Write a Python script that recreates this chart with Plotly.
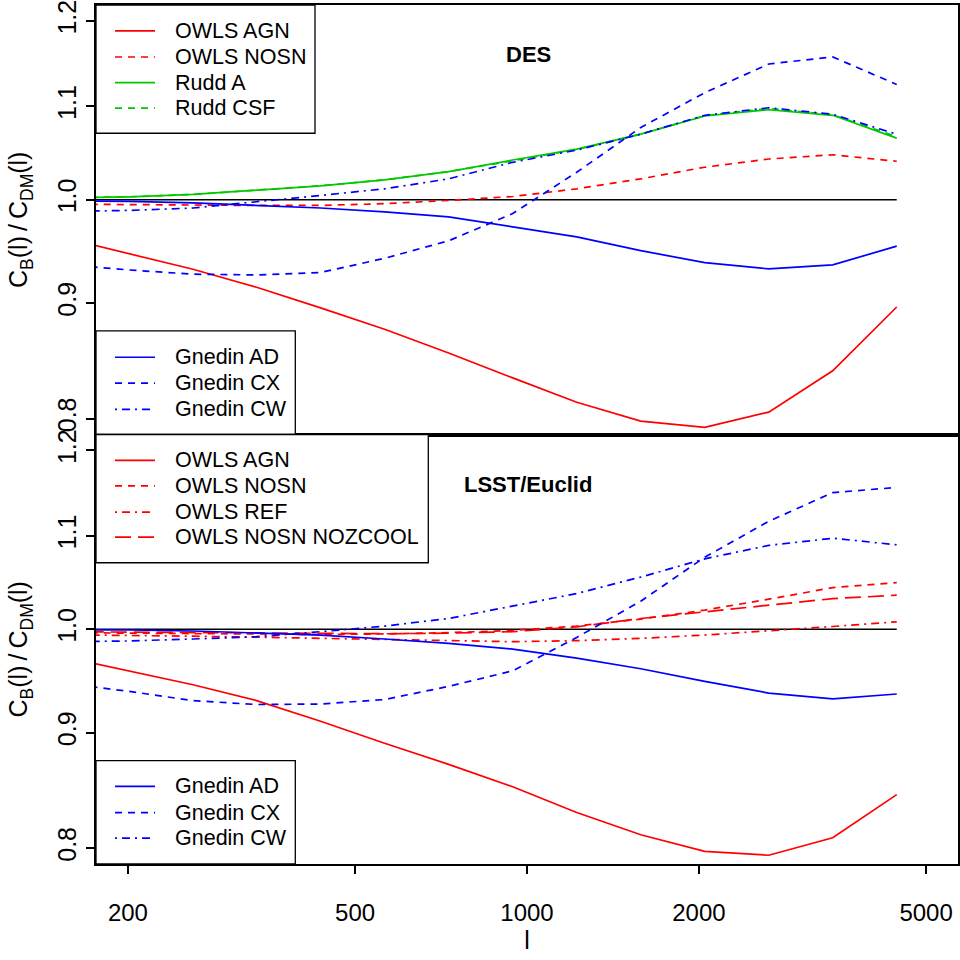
import plotly.graph_objects as go

# ---------------- data ----------------
ell = [155, 201, 260, 336, 435, 563, 729, 944, 1222, 1582, 2048, 2651, 3431, 4442]

# DES panel
des_owls_agn = [0.9616, 0.9465, 0.9316, 0.9146, 0.8956, 0.8763, 0.8553, 0.8339, 0.8134, 0.7980, 0.7929, 0.8053, 0.8400, 0.8964]
des_owls_nosn = [0.9955, 0.9950, 0.9942, 0.9942, 0.9942, 0.9960, 0.9993, 1.0033, 1.0112, 1.0215, 1.0337, 1.0424, 1.0469, 1.0400]
des_rudd_a = [1.0020, 1.0030, 1.0054, 1.0095, 1.0143, 1.0205, 1.0291, 1.0413, 1.0530, 1.0691, 1.0891, 1.0961, 1.0899, 1.0648]
des_rudd_csf = [1.0020, 1.0030, 1.0054, 1.0095, 1.0143, 1.0205, 1.0291, 1.0405, 1.0525, 1.0691, 1.0895, 1.0975, 1.0905, 1.0665]
des_gnedin_ad = [0.9988, 0.9983, 0.9967, 0.9942, 0.9916, 0.9876, 0.9826, 0.9727, 0.9629, 0.9494, 0.9379, 0.9319, 0.9357, 0.9538]
des_gnedin_cx = [0.9360, 0.9309, 0.9269, 0.9262, 0.9285, 0.9420, 0.9590, 0.9860, 1.0284, 1.0764, 1.1153, 1.1484, 1.1567, 1.1247]
des_gnedin_cw = [0.9881, 0.9892, 0.9916, 0.9977, 1.0044, 1.0112, 1.0215, 1.0389, 1.0519, 1.0691, 1.0899, 1.0983, 1.0910, 1.0691]

# LSST/Euclid panel
lsst_owls_agn = [0.9718, 0.9585, 0.9450, 0.9298, 0.9105, 0.8902, 0.8713, 0.8516, 0.8296, 0.8110, 0.7974, 0.7942, 0.8085, 0.8448]
lsst_owls_nosn = [0.9965, 0.9962, 0.9955, 0.9950, 0.9947, 0.9952, 0.9965, 0.9988, 1.0033, 1.0104, 1.0197, 1.0311, 1.0433, 1.0486]
lsst_owls_ref = [0.9944, 0.9939, 0.9929, 0.9919, 0.9909, 0.9899, 0.9889, 0.9874, 0.9884, 0.9907, 0.9941, 0.9982, 1.0028, 1.0076]
lsst_owls_nosn_nozcool = [0.9975, 0.9970, 0.9965, 0.9960, 0.9954, 0.9954, 0.9960, 0.9975, 1.0025, 1.0110, 1.0179, 1.0248, 1.0317, 1.0353]
lsst_gnedin_ad = [0.9993, 0.9992, 0.9982, 0.9965, 0.9941, 0.9901, 0.9857, 0.9799, 0.9709, 0.9605, 0.9482, 0.9370, 0.9314, 0.9361]
lsst_gnedin_cx = [0.9463, 0.9386, 0.9298, 0.9261, 0.9266, 0.9308, 0.9434, 0.9585, 0.9917, 1.0290, 1.0762, 1.1163, 1.1495, 1.1555]
lsst_gnedin_cw = [0.9874, 0.9881, 0.9901, 0.9924, 0.9975, 1.0032, 1.0110, 1.0241, 1.0370, 1.0546, 1.0744, 1.0892, 1.0972, 1.0899]

unity = [1.0] * len(ell)

x_tick_vals = [200, 500, 1000, 2000, 5000]
x_tick_text = ["200", "500", "1000", "2000", "5000"]
y_tick_vals = [0.8, 0.9, 1.0, 1.1, 1.2]
y_tick_text = ["0.8", "0.9", "1.0", "1.1", "1.2"]

panel_titles = ["DES", "LSST/Euclid"]

# ---------------- styles ----------------
RED, GREEN, BLUE, BLACK = "#FF0000", "#00C800", "#0000FF", "#000000"
SOLID, DASHED, DOTDASH, LONGDASH = "solid", "7px,6px", "2px,5px,8px,5px", "16px,7px"
FONT = "Liberation Sans, Arial, Helvetica, sans-serif"

des_series = [
    ("OWLS AGN", des_owls_agn, RED, SOLID),
    ("OWLS NOSN", des_owls_nosn, RED, DASHED),
    ("Rudd A", des_rudd_a, GREEN, SOLID),
    ("Rudd CSF", des_rudd_csf, GREEN, DASHED),
    ("Gnedin AD", des_gnedin_ad, BLUE, SOLID),
    ("Gnedin CX", des_gnedin_cx, BLUE, DASHED),
    ("Gnedin CW", des_gnedin_cw, BLUE, DOTDASH),
]
lsst_series = [
    ("OWLS AGN", lsst_owls_agn, RED, SOLID),
    ("OWLS NOSN", lsst_owls_nosn, RED, DASHED),
    ("OWLS REF", lsst_owls_ref, RED, DOTDASH),
    ("OWLS NOSN NOZCOOL", lsst_owls_nosn_nozcool, RED, LONGDASH),
    ("Gnedin AD", lsst_gnedin_ad, BLUE, SOLID),
    ("Gnedin CX", lsst_gnedin_cx, BLUE, DASHED),
    ("Gnedin CW", lsst_gnedin_cw, BLUE, DOTDASH),
]

W, H = 960, 960
ML, MR, MT, MB = 96, 2, 0, 96
PW, PH = W - ML - MR, H - MT - MB


def pxx(x):
    return (x - ML) / PW


def pxy(y):
    return (H - MB - y) / PH


fig = go.Figure()

for (series, xa, ya) in [(des_series, "x2", "y2"), (lsst_series, "x", "y")]:
    fig.add_trace(go.Scatter(x=ell, y=unity, mode="lines", xaxis=xa, yaxis=ya,
                             line=dict(color=BLACK, width=1.6), showlegend=False,
                             hoverinfo="skip"))
    for name, vals, col, dash in series:
        fig.add_trace(go.Scatter(x=ell, y=vals, mode="lines", name=name, xaxis=xa, yaxis=ya,
                                 line=dict(color=col, width=1.7, dash=dash), showlegend=False))

xr = [2.24511, 3.75489]
yr = [-0.10395, 0.08622]
axis_common = dict(showline=True, mirror=True, linecolor=BLACK, linewidth=2,
                   showgrid=False, zeroline=False, type="log")
ytitle = "C<sub>B</sub>(l)\u2009/\u2009C<sub>DM</sub>(l)"

fig.update_layout(
    width=W, height=H, margin=dict(l=ML, r=MR, t=MT, b=MB),
    paper_bgcolor="white", plot_bgcolor="white",
    font=dict(family=FONT, color=BLACK),
    xaxis=dict(axis_common, range=xr, domain=[0, 1], anchor="y",
               tickvals=x_tick_vals, ticktext=x_tick_text, ticks="outside",
               ticklen=8, tickwidth=1.5, tickcolor=BLACK, tickfont=dict(size=24),
               ticklabelstandoff=18, ticklabeloverflow="allow",
               title=dict(text="l", font=dict(size=25), standoff=4)),
    yaxis=dict(axis_common, range=yr, domain=[0, 0.5], anchor="x",
               tickvals=y_tick_vals, ticktext=y_tick_text, ticks="outside",
               ticklen=8, tickwidth=1.5, tickcolor=BLACK, tickangle=-90,
               tickfont=dict(size=25), ticklabeloverflow="allow",
               title=dict(text=ytitle, font=dict(size=25), standoff=18)),
    xaxis2=dict(axis_common, range=xr, domain=[0, 1], anchor="y2",
                showticklabels=False, ticks=""),
    yaxis2=dict(axis_common, range=yr, domain=[0.5, 1], anchor="x2",
                tickvals=y_tick_vals, ticktext=y_tick_text, ticks="outside",
                ticklen=8, tickwidth=1.5, tickcolor=BLACK, tickangle=-90,
                tickfont=dict(size=25), ticklabeloverflow="allow",
                title=dict(text=ytitle, font=dict(size=25), standoff=18)),
    showlegend=False,
)

# ---------------- legends (R-style boxes) ----------------
shapes, annos = [], []


def legend_box(x0, y0, x1, y1, rows, entries):
    shapes.append(dict(type="rect", xref="paper", yref="paper",
                       x0=pxx(x0), x1=pxx(x1), y0=pxy(y1), y1=pxy(y0),
                       line=dict(color=BLACK, width=1.3), fillcolor="white", layer="above"))
    for ry, (name, _vals, col, dash) in zip(rows, entries):
        shapes.append(dict(type="line", xref="paper", yref="paper",
                           x0=pxx(115), x1=pxx(155), y0=pxy(ry), y1=pxy(ry),
                           line=dict(color=col, width=1.7, dash=dash), layer="above"))
        annos.append(dict(xref="paper", yref="paper", x=pxx(173), y=pxy(ry),
                          xanchor="left", yanchor="middle", showarrow=False,
                          text=name, font=dict(size=21.5, family=FONT, color=BLACK)))


legend_box(96, 0, 315, 129, [26, 52.3, 78, 103.7], des_series[:4])
legend_box(96, 327.7, 295.3, 432, [354.3, 380.3, 406.7], des_series[4:])
legend_box(96, 432, 428.3, 561, [458, 483.7, 510, 535.3], lsst_series[:4])
legend_box(96, 760, 295.3, 864, [786, 812.3, 838], lsst_series[4:])

annos.append(dict(xref="paper", yref="paper", x=pxx(528), y=pxy(50), xanchor="center",
                  yanchor="middle", showarrow=False, text="<b>%s</b>" % panel_titles[0],
                  font=dict(size=22, family=FONT, color=BLACK)))
annos.append(dict(xref="paper", yref="paper", x=pxx(528), y=pxy(482), xanchor="center",
                  yanchor="middle", showarrow=False, text="<b>%s</b>" % panel_titles[1],
                  font=dict(size=22, family=FONT, color=BLACK)))

fig.update_layout(shapes=shapes, annotations=annos)
fig.write_html("out.html")
